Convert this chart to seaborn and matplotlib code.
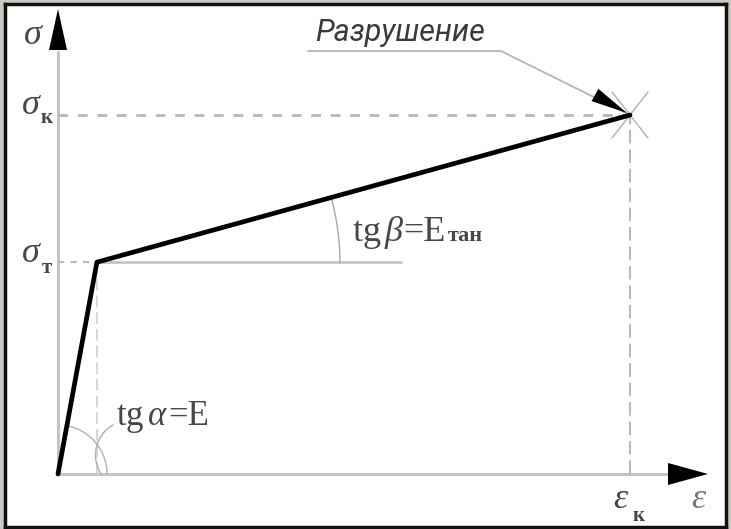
import numpy as np
import matplotlib
matplotlib.use("Agg")
import matplotlib.pyplot as plt
import seaborn as sns

# bilinear stress-strain diagram, normalised so that eps_k = sigma_k = 1
strain = [0.0, 0.068, 1.0]   # origin, yield point, failure point
stress = [0.0, 0.59, 1.0]
hline_end = 0.60             # end of the horizontal reference line at sigma_t

sns.set_theme(style="white")
plt.rcParams["font.family"] = ["Liberation Serif", "DejaVu Serif"]
plt.rcParams["mathtext.fontset"] = "custom"
plt.rcParams["mathtext.rm"] = "Liberation Serif"
plt.rcParams["mathtext.it"] = "Liberation Serif:italic"

W, H = 731, 529
X0, Y0, SX, SY = 58, 474, 572, 359   # pixel position of origin, pixels per unit


def px(x, y):
    """pixel position -> data coords"""
    return (x - X0) / SX, (Y0 - y) / SY


def topx(xd, yd):
    return X0 + xd * SX, Y0 - yd * SY


def poly_px(pts):
    d = [px(x, y) for x, y in pts]
    return [p[0] for p in d], [p[1] for p in d]


def arc_px(cx, cy, r, a0, a1):
    t = np.linspace(a0, a1, 50)
    return poly_px(list(zip(cx + r * np.cos(t), cy - r * np.sin(t))))


def head(ax, tip, base, hw, color="black"):
    (tx, ty), (bx, by) = tip, base
    dx, dy = tx - bx, ty - by
    n = np.hypot(dx, dy)
    nx, ny = -dy / n * hw, dx / n * hw
    xs, ys = poly_px([(tx, ty), (bx + nx, by + ny), (bx - nx, by - ny)])
    ax.fill(xs, ys, color=color, lw=0, zorder=6)


fig = plt.figure(figsize=(W / 100, H / 100), dpi=100, facecolor="#cdc8c2")
ax = fig.add_axes([5 / W, 2 / H, 721 / W, 523 / H])
ax.set_facecolor("white")
ax.set_xlim(px(5, 0)[0], px(726, 0)[0])
ax.set_ylim(px(0, 527)[1], px(0, 4)[1])
ax.set_xticks([])
ax.set_yticks([])
for s in ax.spines.values():
    s.set_color("#111111")
    s.set_linewidth(2.5)

grey = "#c4c4c4"
dash_grey = "#b8b8b8"
txt = "#474747"

# coordinate axes
ax.plot([0, px(670, 0)[0]], [0, 0], color=grey, lw=2.2, zorder=2)
ax.plot([0, 0], [0, px(0, 52)[1]], color=grey, lw=2.2, zorder=2)
head(ax, (708, Y0), (668, Y0), 11)
head(ax, (X0, 9), (X0, 50), 9)

# helper lines
ax.plot([0, strain[2]], [stress[2], stress[2]], color=dash_grey, lw=2,
        linestyle=(0, (3.5, 3.5)), zorder=2)
ax.plot([strain[2], strain[2]], [0, stress[2]], color=dash_grey, lw=1.4,
        linestyle=(0, (7, 3)), zorder=2)
ax.plot([strain[1], strain[1]], [0, stress[1]], color="#d0d0d0", lw=1.2,
        linestyle=(0, (7, 3)), zorder=2)
ax.plot([0, strain[1]], [stress[1], stress[1]], color=dash_grey, lw=1.5,
        linestyle=(0, (3, 3)), zorder=2)
ax.plot([strain[1], hline_end], [stress[1], stress[1]], color=grey, lw=2, zorder=2)

# main curve
sns.lineplot(x=strain, y=stress, sort=False, estimator=None, color="black",
             lw=3.4, ax=ax, zorder=5)

# angle arcs
fx, fy = topx(strain[2], stress[2])
yx, yy = topx(strain[1], stress[1])
ox, oy = topx(strain[0], stress[0])
beta = np.arctan2(yy - fy, fx - yx)
ax.plot(*arc_px(yx, yy, 243, 0, beta), color="#a8a8a8", lw=1, zorder=3)
alpha = np.arctan2(oy - yy, yx - ox)
ax.plot(*arc_px(ox, oy, 49, 0, alpha), color="#b0b0b0", lw=1, zorder=3)
# leader from the alpha arc to its label
ax.plot(*arc_px(130, 455, 34.5, np.radians(119), np.radians(212)),
        color="#b0b0b0", lw=1, zorder=3)

# failure mark and leader
ax.plot(*poly_px([(fx - 18, fy - 23), (fx + 18, fy + 23)]), color="#b0b0b0", lw=1, zorder=3)
ax.plot(*poly_px([(fx + 18, fy - 23), (fx - 18, fy + 23)]), color="#b0b0b0", lw=1, zorder=3)
ax.plot(*poly_px([(308, 51), (501, 51), (fx - 4, fy - 2)]), color="#b4b4b4", lw=1.3, zorder=3)
head(ax, (fx - 3, fy - 2), (fx - 35, fy - 20), 7)

# labels
ax.text(*px(33, 36), r"$\sigma$", fontsize=26, color=txt, ha="center", va="center")
ax.text(*px(31, 105), r"$\sigma$", fontsize=26, color=txt, ha="center", va="center")
ax.text(*px(47, 118), "к", fontsize=15, fontweight="bold", color=txt, ha="center", va="center")
ax.text(*px(31, 253), r"$\sigma$", fontsize=26, color=txt, ha="center", va="center")
ax.text(*px(47, 268), "т", fontsize=15, fontweight="bold", color=txt, ha="center", va="center")
ax.text(*px(621, 500), r"$\varepsilon$", fontsize=26, color=txt, ha="center", va="center")
ax.text(*px(639, 516), "к", fontsize=15, fontweight="bold", color=txt, ha="center", va="center")
ax.text(*px(699, 500), r"$\varepsilon$", fontsize=26, color="#777777", ha="center", va="center")

ax.text(*px(352, 241), r"$\mathrm{tg}\,\beta$", fontsize=26, color=txt, ha="left", va="baseline")
ax.text(*px(403, 241), "=E", fontsize=26, color=txt, ha="left", va="baseline")
ax.text(*px(448, 241), "тан", fontsize=16, fontweight="bold", color=txt, ha="left", va="baseline")
ax.text(*px(116, 425), r"$\mathrm{tg}\,\alpha$", fontsize=25, color=txt, ha="left", va="baseline")
ax.text(*px(168, 425), "=E", fontsize=25, color=txt, ha="left", va="baseline")

ax.text(*px(315, 41), "Разрушение", fontsize=22, style="italic", color="#3a3a3a",
        family=["Roboto", "DejaVu Sans"], ha="left", va="baseline")

fig.savefig("out.png", dpi=100, facecolor=fig.get_facecolor())
